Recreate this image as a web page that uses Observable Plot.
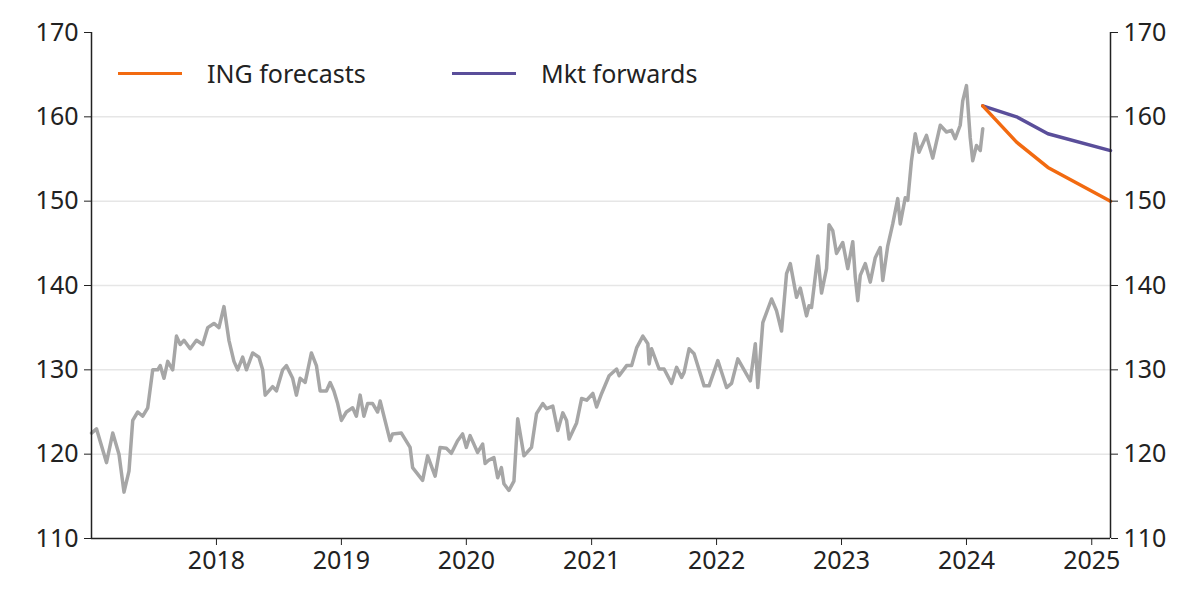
<!DOCTYPE html>
<html><head><meta charset="utf-8">
<script src="https://cdn.jsdelivr.net/npm/d3@7"></script>
<script src="https://cdn.jsdelivr.net/npm/@observablehq/plot@0.6"></script>
<style>
body{margin:0;background:#fff;font-family:"Noto Sans",sans-serif;}
#wrap{position:relative;width:1200px;height:607px;}
.leg{position:absolute;top:56px;font-size:25px;color:#222;display:flex;align-items:center;}
.leg span.l{display:inline-block;width:64px;height:3px;margin-right:25px;}
</style></head><body>
<div id="wrap"></div>
<script>
const histYears = [2017.00,2017.04,2017.07,2017.12,2017.17,2017.22,2017.26,2017.30,2017.33,2017.37,2017.41,2017.45,2017.49,2017.53,2017.55,2017.58,2017.61,2017.65,2017.68,2017.71,2017.74,2017.79,2017.84,2017.89,2017.93,2017.98,2018.02,2018.06,2018.10,2018.14,2018.17,2018.21,2018.24,2018.29,2018.34,2018.37,2018.39,2018.45,2018.48,2018.53,2018.56,2018.61,2018.64,2018.67,2018.71,2018.76,2018.80,2018.83,2018.88,2018.91,2018.94,2018.97,2019.00,2019.04,2019.09,2019.12,2019.15,2019.18,2019.21,2019.25,2019.29,2019.31,2019.39,2019.41,2019.48,2019.55,2019.57,2019.65,2019.69,2019.75,2019.79,2019.84,2019.88,2019.93,2019.97,2020.00,2020.03,2020.09,2020.13,2020.15,2020.18,2020.22,2020.25,2020.28,2020.30,2020.34,2020.38,2020.41,2020.46,2020.52,2020.56,2020.61,2020.64,2020.69,2020.73,2020.77,2020.80,2020.82,2020.88,2020.92,2020.96,2021.01,2021.04,2021.08,2021.14,2021.20,2021.22,2021.28,2021.32,2021.36,2021.41,2021.45,2021.46,2021.48,2021.54,2021.58,2021.64,2021.68,2021.72,2021.74,2021.78,2021.82,2021.90,2021.94,2022.01,2022.08,2022.12,2022.17,2022.27,2022.31,2022.33,2022.37,2022.44,2022.48,2022.52,2022.56,2022.59,2022.64,2022.67,2022.72,2022.74,2022.76,2022.81,2022.84,2022.88,2022.90,2022.93,2022.96,2023.01,2023.05,2023.09,2023.11,2023.13,2023.15,2023.19,2023.23,2023.27,2023.31,2023.33,2023.37,2023.41,2023.45,2023.47,2023.51,2023.53,2023.56,2023.59,2023.62,2023.68,2023.73,2023.79,2023.84,2023.88,2023.91,2023.95,2023.97,2024.00,2024.03,2024.05,2024.08,2024.11,2024.13];
const histValues = [122.5,123.0,121.5,119.0,122.5,120.0,115.5,118.0,124.0,125.0,124.5,125.5,130.0,130.0,130.5,129.0,131.0,130.0,134.0,133.0,133.5,132.5,133.5,133.0,135.0,135.5,135.0,137.5,133.5,131.0,130.0,131.5,130.0,132.0,131.5,130.0,127.0,128.0,127.5,130.0,130.5,129.0,127.0,129.0,128.5,132.0,130.5,127.5,127.5,128.5,127.5,126.0,124.0,125.0,125.5,124.5,127.0,124.5,126.0,126.0,125.0,126.3,121.6,122.4,122.5,120.8,118.4,116.9,119.8,117.4,120.8,120.7,120.1,121.6,122.4,120.8,122.2,120.2,121.2,118.9,119.3,119.6,117.2,118.4,116.5,115.7,116.8,124.2,119.8,120.8,124.8,126.0,125.4,125.7,122.8,124.9,124.0,121.8,123.7,126.6,126.4,127.2,125.6,127.2,129.3,130.1,129.3,130.5,130.5,132.6,134.0,133.1,130.7,132.5,130.1,130.1,128.4,130.3,129.1,129.7,132.5,131.9,128.1,128.1,131.1,127.9,128.4,131.3,128.7,133.1,127.9,135.6,138.4,137.0,134.6,141.4,142.6,138.6,139.7,136.4,137.6,137.4,143.5,139.1,142.0,147.2,146.5,143.8,145.1,142.0,145.2,141.0,138.2,141.2,142.6,140.4,143.3,144.5,140.6,144.7,147.3,150.3,147.3,150.4,150.1,154.8,158.0,155.8,157.8,155.1,159.0,158.2,158.4,157.4,159.0,161.9,163.7,157.5,154.8,156.6,156.0,158.6,161.3,160.5,161.3];
const fcYears = [2024.13,2024.40,2024.65,2025.15];
const ingValues = [161.3,157.0,154.0,150.0];
const mktValues = [161.3,160.0,158.0,156.0];
const yTicks = [110,120,130,140,150,160,170];
const xTickYears = [2018,2019,2020,2021,2022,2023,2024,2025];

const toDate = y => { const yr = Math.floor(y); const s = Date.UTC(yr,0,1), e = Date.UTC(yr+1,0,1); return new Date(s + (y-yr)*(e-s)); };
const hist = histYears.map((y,i)=>({d:toDate(y),v:histValues[i]}));
const ing = fcYears.map((y,i)=>({d:toDate(y),v:ingValues[i]}));
const mkt = fcYears.map((y,i)=>({d:toDate(y),v:mktValues[i]}));

const chart = Plot.plot({
  width:1200, height:607,
  marginLeft:91, marginRight:90, marginTop:32, marginBottom:69,
  style:{fontFamily:"Noto Sans, sans-serif", fontSize:"25px", color:"#222", background:"#fff"},
  x:{type:"utc", domain:[toDate(2017.0), toDate(2025.15)], label:null},
  y:{domain:[110,170], label:null},
  marks:[
    Plot.gridY(yTicks.slice(1,-1), {stroke:"#e6e6e6", strokeOpacity:1, strokeWidth:1.5}),
    Plot.line(hist,{x:"d",y:"v",stroke:"#a6a6a6",strokeWidth:3.5}),
    Plot.line(mkt,{x:"d",y:"v",stroke:"#5a4e9a",strokeWidth:3.5}),
    Plot.line(ing,{x:"d",y:"v",stroke:"#f26a10",strokeWidth:3.5}),
    Plot.axisY(yTicks,{anchor:"left",tickSize:7,tickPadding:6,fontSize:25,label:null}),
    Plot.axisY(yTicks,{anchor:"right",tickSize:7,tickPadding:6,fontSize:25,label:null}),
    Plot.axisX(xTickYears.map(y=>toDate(y)),{anchor:"bottom",tickSize:7,tickPadding:6,fontSize:25,label:null,tickFormat:d=>String(new Date(d).getUTCFullYear())}),
    Plot.ruleX([toDate(2017.0)],{stroke:"#222",strokeWidth:1.5}),
    Plot.ruleX([toDate(2025.15)],{stroke:"#222",strokeWidth:1.5}),
    Plot.ruleY([110],{stroke:"#222",strokeWidth:1.5})
  ]
});
const wrap=document.getElementById("wrap");
wrap.appendChild(chart);
const legend=[["ING forecasts","#f26a10",118],["Mkt forwards","#5a4e9a",452]];
for(const [t,c,x] of legend){
  const d=document.createElement("div");d.className="leg";d.style.left=x+"px";
  d.innerHTML=`<span class="l" style="background:${c}"></span>${t}`;wrap.appendChild(d);
}
</script></body></html>
